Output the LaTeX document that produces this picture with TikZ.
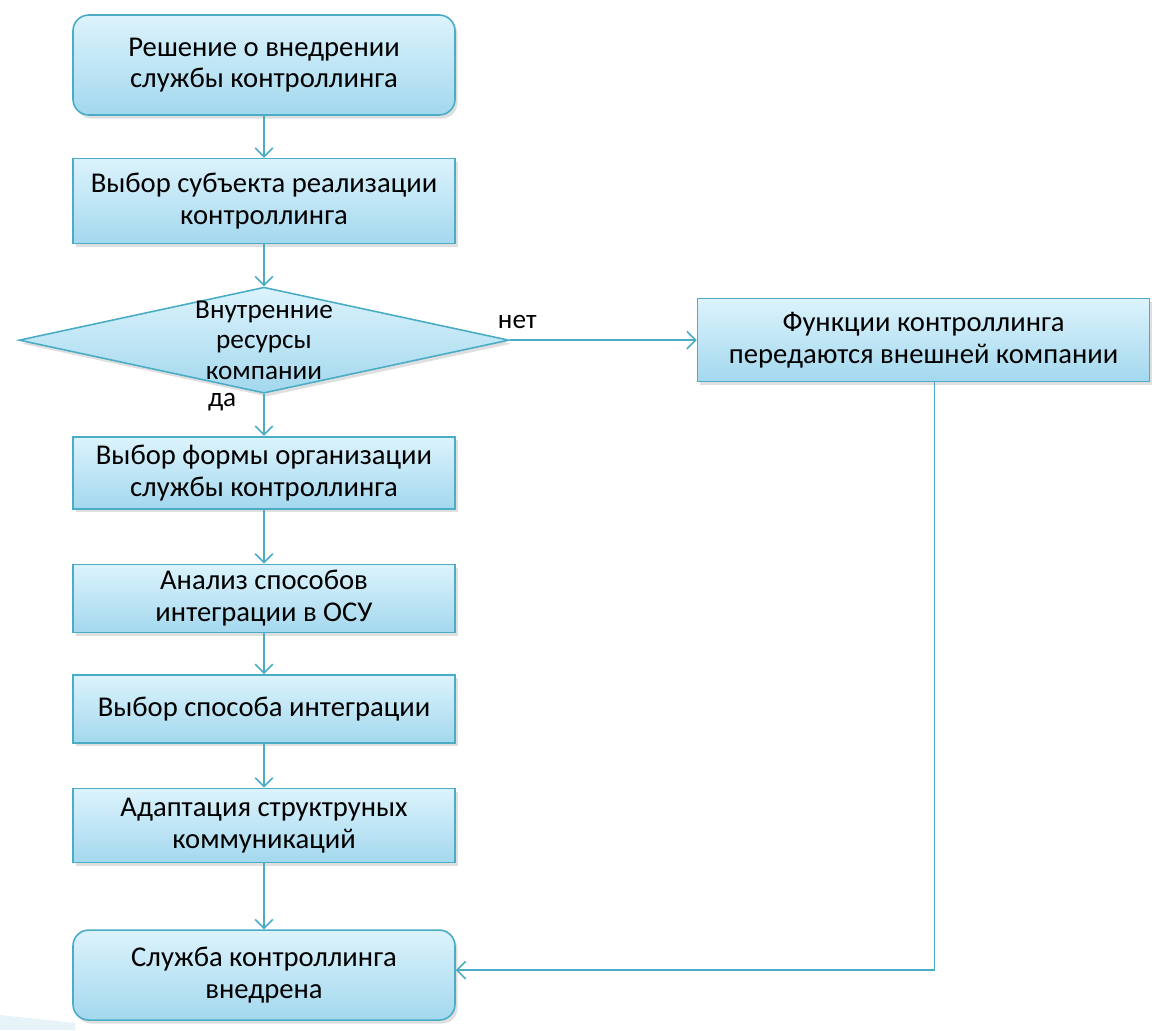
\documentclass[tikz,border=0pt]{standalone}
\usepackage{fontspec}
\setmainfont{Carlito}
\usepackage{xcolor}
\usetikzlibrary{shapes.geometric,arrows.meta,positioning,shadows}

\definecolor{aqualine}{HTML}{4BACC6}
\definecolor{aquatop}{HTML}{DCF3FC}
\definecolor{aquabottom}{HTML}{A3D8EE}
\definecolor{slidewedge}{HTML}{E6F3F8}

\begin{document}
\begin{tikzpicture}[
    node distance=0.84cm,
    process/.style={
        rectangle,
        draw=aqualine,
        line width=0.9pt,
        top color=aquatop,
        bottom color=aquabottom,
        drop shadow={shadow xshift=1.5pt, shadow yshift=-2pt, opacity=0.25},
        text centered,
        align=center,
        minimum width=7.64cm,
        font=\fontsize{16.3}{18}\selectfont
    },
    terminal/.style={
        process,
        rounded corners=9pt
    },
    decision/.style={
        diamond,
        draw=aqualine,
        line width=0.9pt,
        top color=aquatop,
        bottom color=aquabottom,
        drop shadow={shadow xshift=1.5pt, shadow yshift=-2pt, opacity=0.25},
        minimum width=9.8cm,
        minimum height=2.12cm,
        inner sep=0pt
    },
    arrow/.style={-{Straight Barb[length=5pt, width=10pt]}, draw=aqualine, line width=0.9pt},
    answer/.style={font=\fontsize{15.5}{17.5}\selectfont}
]
    \useasboundingbox (0,0) rectangle (23.14,-20.6);

    % slide corner
    \fill[slidewedge] (0,-20.3) -- (1.5,-20.46) -- (1.5,-20.6) -- (0,-20.6) -- cycle;

    \node[terminal, minimum height=2cm] (start) at (5.28,-1.3) {Решение о внедрении\\службы контроллинга};
    \node[process, minimum height=1.7cm, below=of start] (subject) {Выбор субъекта реализации\\контроллинга};
    \node[decision, below=0.84cm of subject,
        label={[align=center, font=\fontsize{15.5}{17.5}\selectfont]center:Внутренние\\ресурсы\\компании}] (check) {};
    \node[process, minimum width=9.04cm, minimum height=1.66cm, right=3.74cm of check] (outsource) {Функции контроллинга\\передаются внешней компании};

    \node[process, minimum height=1.44cm, below=0.84cm of check] (form) {Выбор формы организации\\службы контроллинга};
    \node[process, minimum height=1.36cm, below=1.08cm of form] (analysis) {Анализ способов\\интеграции в ОСУ};
    \node[process, minimum height=1.36cm, below=0.82cm of analysis] (method) {Выбор способа интеграции};
    \node[process, minimum height=1.48cm, below=0.88cm of method] (adapt) {Адаптация структруных\\коммуникаций};
    \node[terminal, minimum height=1.8cm, below=1.32cm of adapt] (done) {Служба контроллинга\\внедрена};

    \draw[arrow] (start) -- (subject);
    \draw[arrow] (subject) -- (check);
    \draw[arrow] (check.east) -- node[answer, pos=0.04, above=3pt] {нет} (check.east -| outsource.west);
    \draw[arrow] (check) -- node[answer, pos=0.2, left=12pt] {да} (form);
    \draw[arrow] (form) -- (analysis);
    \draw[arrow] (analysis) -- (method);
    \draw[arrow] (method) -- (adapt);
    \draw[arrow] (adapt) -- (done);
    \draw[arrow] ([xshift=0.22cm]outsource.south) |- ([yshift=0.1cm]done.east);
\end{tikzpicture}
\end{document}
